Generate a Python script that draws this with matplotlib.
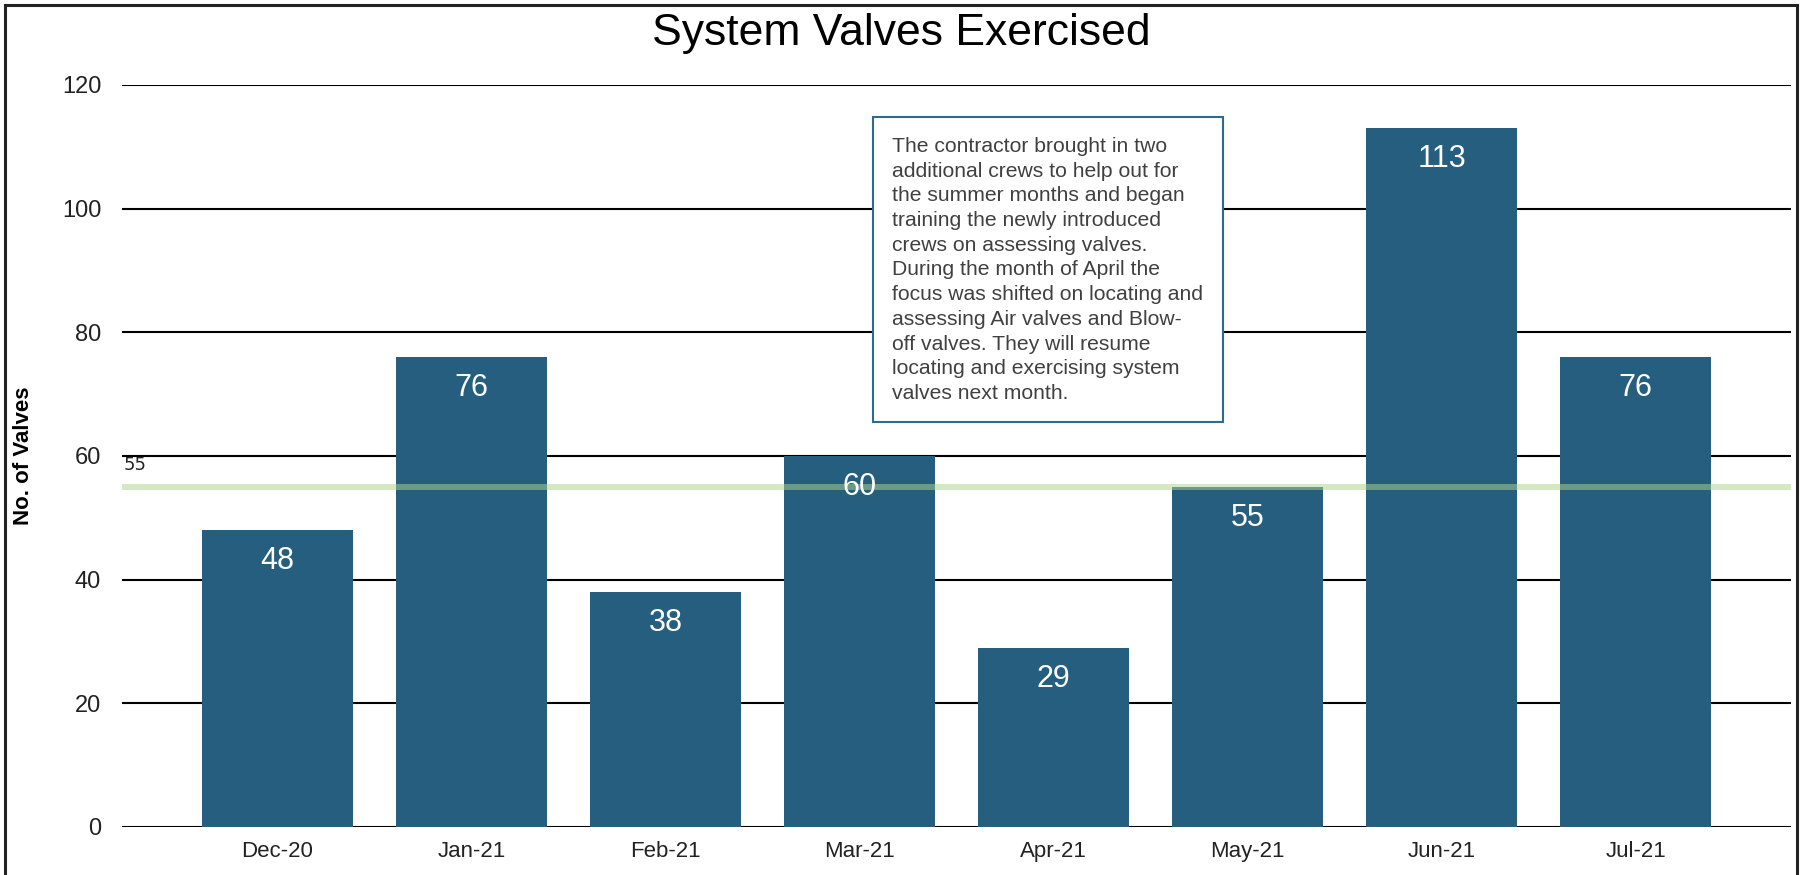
import matplotlib
matplotlib.use("Agg")
import matplotlib.pyplot as plt
from matplotlib.lines import Line2D

plt.rcParams['font.family'] = ['Liberation Sans', 'DejaVu Sans']

# Chart data
months = ["Dec-20", "Jan-21", "Feb-21", "Mar-21", "Apr-21", "May-21", "Jun-21", "Jul-21"]
valves = [48, 76, 38, 60, 29, 55, 113, 76]
target = 55
note = ("The contractor brought in two\n"
        "additional crews to help out for\n"
        "the summer months and began\n"
        "training the newly introduced\n"
        "crews on assessing valves.\n"
        "During the month of April the\n"
        "focus was shifted on locating and\n"
        "assessing Air valves and Blow-\n"
        "off valves. They will resume\n"
        "locating and exercising system\n"
        "valves next month.")

bar_color = "#255e7e"

fig = plt.figure(figsize=(18.03, 8.75), dpi=100)
ax = fig.add_axes([0.0677, 0.0549, 0.9256, 0.848])

x = list(range(len(months)))
bars = ax.bar(x, valves, width=0.78, color=bar_color, zorder=2)

# value labels inside the bars
for xi, v in zip(x, valves):
    ax.annotate(str(v), (xi, v), xytext=(0, -28), textcoords="offset points",
                ha="center", va="baseline", color="white", fontsize=22, zorder=4)

# target line
ax.axhline(target, color="#acd38e", alpha=0.52, lw=4.3, zorder=3)
ax.annotate(str(target), (-0.8, target), xytext=(1, 12), textcoords="offset points",
            ha="left", va="baseline", fontsize=13, color="#222222",
            family="DejaVu Sans")

ax.set_xlim(-0.8, 7.8)
ax.set_ylim(0, 120)
ax.set_yticks(range(0, 121, 20))
ax.set_xticks(x)
ax.set_xticklabels(months)
ax.tick_params(axis="both", length=0, colors="#222222")
ax.tick_params(axis="y", labelsize=17, pad=15)
ax.tick_params(axis="x", labelsize=16, pad=10)
ax.grid(axis="y", color="black", lw=1.5, zorder=1)
ax.set_axisbelow(True)
for s in ax.spines.values():
    s.set_visible(False)

ax.set_ylabel("No. of Valves", fontsize=16, fontweight="bold", labelpad=0)
ax.yaxis.set_label_coords(-0.053, 0.5)

fig.text(0.5, 1 - 45 / 875, "System Valves Exercised", fontsize=32,
         ha="center", va="baseline")

# annotation box
ax.text(3.17, 111.6, note, ha="left", va="top", fontsize=15.2, color="#404040",
        linespacing=1.38, zorder=5,
        bbox=dict(boxstyle="square,pad=0.92", fc="white", ec="#2e6a8e", lw=1.5))

# outer frame
fw, fh = 1803, 875
for xs, ys in [((5, 5), (0, 870)), ((5, 1797), (870, 870)), ((1797, 1797), (870, 0))]:
    fig.add_artist(Line2D([xs[0] / fw, xs[1] / fw], [ys[0] / fh, ys[1] / fh],
                          color="#222222", lw=2.2, transform=fig.transFigure))

fig.savefig("out.png", dpi=100)
